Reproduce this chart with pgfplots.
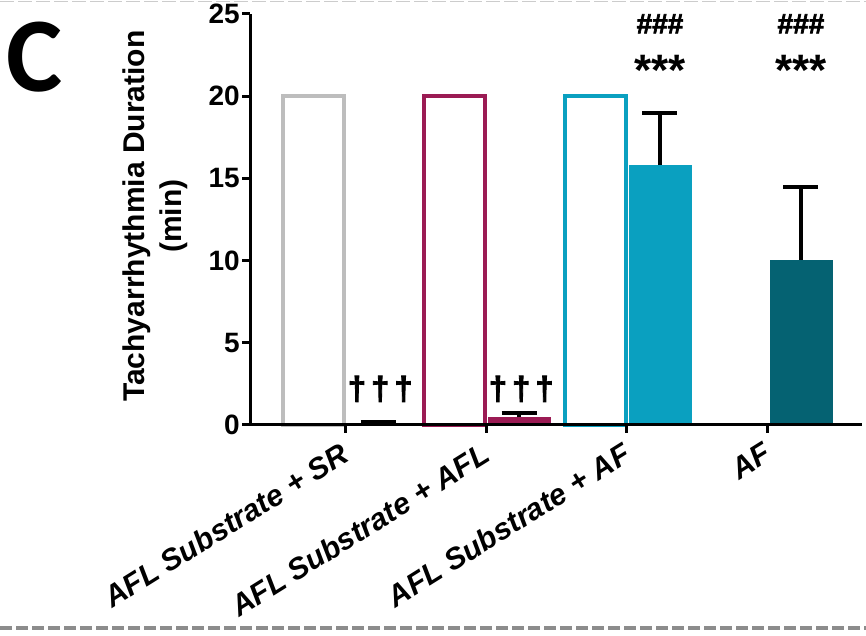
\documentclass[border=0pt]{standalone}
\usepackage{fontspec}
\setmainfont{Liberation Sans}
\newfontfamily\calfont{Carlito}
\newfontfamily\heavy[FakeBold=2.5]{Liberation Sans}
\usepackage{pgfplots}
\pgfplotsset{compat=1.18}
\definecolor{cgray}{HTML}{BDBDBD}
\definecolor{cmaroon}{HTML}{9B1B54}
\definecolor{ccyan}{HTML}{0AA0C0}
\definecolor{cteal}{HTML}{056272}
\begin{document}
\begin{tikzpicture}[x=1pt,y=1pt]
\useasboundingbox (0,0) rectangle (866,636);
\draw[color=black!20, line width=1.5pt, dash pattern=on 14pt off 4pt] (0,634.5) -- (866,634.5);
\draw[color=black!45, line width=4.5pt, dash pattern=on 12pt off 4pt] (0,8) -- (866,8);
\node[anchor=base west, inner sep=0, font=\calfont\bfseries\fontsize{106}{106}\selectfont] at (6,544) {C};
\begin{axis}[
  at={(250pt,211pt)}, anchor=south west, scale only axis, width=612pt, height=411pt,
  xmin=-0.674, xmax=3.667, ymin=0, ymax=25,
  axis lines*=left,
  axis line style={line width=3pt, black},
  tick style={line width=3pt, black}, major tick length=8pt, tick align=outside,
  ytick={0,5,10,15,20,25}, xtick={0,1,2,3},
  xticklabels={AFL Substrate + SR, AFL Substrate + AFL, AFL Substrate + AF, AF},
  ticklabel style={font=\fontsize{28}{28}\selectfont\bfseries},
  /pgf/number format/assume math mode=true,
  yticklabel style={inner sep=2pt},
  xticklabel style={xshift=-5.5pt, yshift=-7pt, rotate=32, anchor=north east, inner sep=1pt, font=\fontsize{30}{30}\selectfont\bfseries\itshape},
  ylabel={Tachyarrhythmia Duration\\(min)},
  every axis y label/.style={at={(axis description cs:-0.155,0.508)}, rotate=90, anchor=center, align=center, font=\fontsize{30}{37}\selectfont\bfseries},
  axis on top,
  clip=false,
]
% open bars
\addplot[ybar, bar width=0.433, bar shift=-0.223, draw=cgray, fill=white, line width=4pt] coordinates {(0,20)};
\addplot[ybar, bar width=0.433, bar shift=-0.223, draw=cmaroon, fill=white, line width=4pt] coordinates {(1,20)};
\addplot[ybar, bar width=0.433, bar shift=-0.223, draw=ccyan, fill=white, line width=4pt] coordinates {(2,20)};
% filled bars
\addplot[ybar, bar width=0.443, bar shift=0.234, fill=cgray, draw=cgray] coordinates {(0,0.08)};
\addplot[ybar, bar width=0.443, bar shift=0.234, fill=cmaroon, draw=cmaroon] coordinates {(1,0.47)};
\addplot[ybar, bar width=0.443, bar shift=0.234, fill=ccyan, draw=ccyan] coordinates {(2,15.8)};
\addplot[ybar, bar width=0.443, bar shift=0.234, fill=cteal, draw=cteal] coordinates {(3,10.05)};
% error bars (upper SEM), at the filled bars' centres
\addplot[draw=none, mark=none, error bars/.cd, y dir=plus, y explicit, error mark=-,
  error bar style={line width=4pt, black},
  error mark options={rotate=90, line width=4pt, mark size=17.5pt, black}]
  coordinates {(0.234,0.08) +- (0,0.12) (1.234,0.47) +- (0,0.26) (2.234,15.8) +- (0,3.2) (3.234,10.05) +- (0,4.4)};
% significance marks
\node[font=\heavy\bfseries\fontsize{33}{33}\selectfont] at (axis cs:0.25,2.2) {†\hspace{5pt}†\hspace{5pt}†};
\node[font=\heavy\bfseries\fontsize{33}{33}\selectfont] at (axis cs:1.25,2.2) {†\hspace{5pt}†\hspace{5pt}†};
\node[font=\heavy\bfseries\fontsize{28}{28}\selectfont] at (axis cs:2.234,24.4) {\#\#\#};
\node[font=\heavy\bfseries\fontsize{28}{28}\selectfont] at (axis cs:3.234,24.4) {\#\#\#};
\node[font=\bfseries\fontsize{44}{44}\selectfont] at (axis cs:2.234,21.6) {***};
\node[font=\bfseries\fontsize{44}{44}\selectfont] at (axis cs:3.234,21.6) {***};
\end{axis}
\end{tikzpicture}
\end{document}
